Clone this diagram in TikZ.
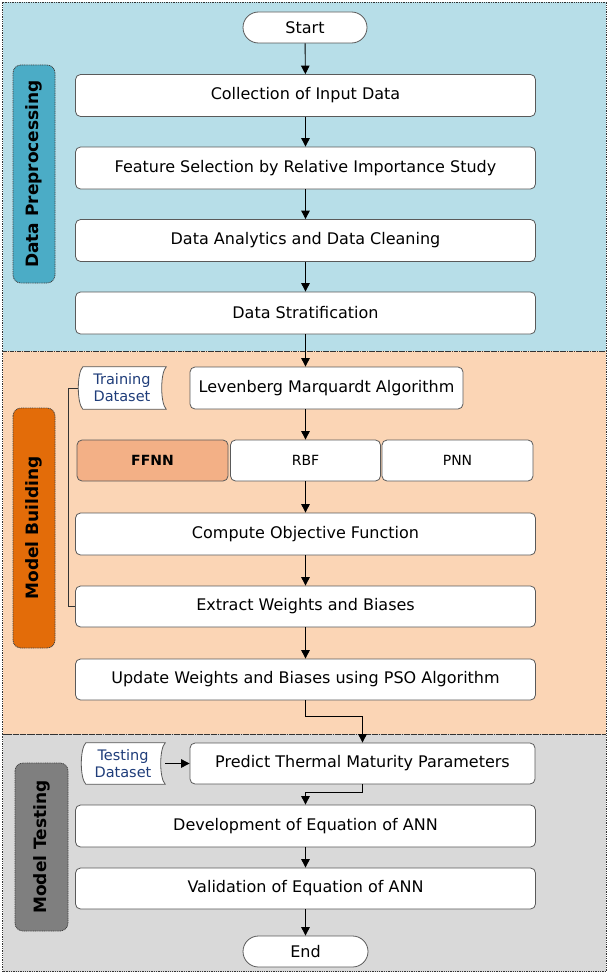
\documentclass[tikz,border=0pt]{standalone}
\usepackage{fontspec}
\setmainfont{DejaVu Sans}
\usetikzlibrary{arrows.meta,calc}
\pgfdeclarelayer{secbg}
\pgfdeclarelayer{shp}
\pgfsetlayers{secbg,shp,main}
\definecolor{bluebg}{HTML}{B7DEE8}
\definecolor{orangebg}{HTML}{FBD5B5}
\definecolor{graybg}{HTML}{D9D9D9}
\definecolor{bluelab}{HTML}{4BACC6}
\definecolor{orangelab}{HTML}{E36C09}
\definecolor{graylab}{HTML}{7F7F7F}
\definecolor{ffnnfill}{HTML}{F3B086}
\definecolor{dsblue}{HTML}{1F3D7A}
\definecolor{boxline}{HTML}{5A5A5A}
\tikzset{
  secframe/.style={draw=black!80, line width=0.9pt, dash pattern=on 1.3pt off 1pt},
  procbox/.style={draw=boxline, fill=white, line width=0.8pt, rounded corners=5pt,
    minimum width=460pt, minimum height=42pt, inner sep=0pt,
    font=\fontsize{16}{19}\selectfont},
  smallbox/.style={procbox, minimum width=151pt, minimum height=41pt, font=\fontsize{14}{17}\selectfont},
  termbox/.style={draw=boxline, fill=white, line width=0.8pt, rounded corners=15.5pt,
    minimum width=124pt, minimum height=31pt, inner sep=0pt, font=\fontsize{16}{19}\selectfont},
  seclabel/.style={draw=black!75, line width=0.8pt, dash pattern=on 1pt off 0.8pt,
    rounded corners=8pt, rotate=90, inner sep=0pt, minimum height=42pt,
    font=\fontsize{17}{20}\selectfont\bfseries},
  dsnode/.style={inner sep=0pt, minimum width=88pt, minimum height=42pt, align=center,
    text=dsblue, font=\fontsize{14.5}{17}\selectfont},
  dsshape/.style={draw=boxline, fill=white, line width=0.8pt},
  arr/.style={draw=black, line width=0.9pt, -{Triangle[length=8.5pt,width=8.5pt]}},
  conn/.style={draw=black!80, line width=0.8pt},
}
\newcommand{\storedshape}[1]{%
  \path[dsshape] ([xshift=5pt]#1.north west) -- (#1.north east)
    .. controls +(-6,6) and +(-6,-6) .. (#1.south east)
    -- ([xshift=5pt]#1.south west)
    .. controls +(-6,-6) and +(-6,6) .. ([xshift=5pt]#1.north west) -- cycle;}
\begin{document}
\begin{tikzpicture}[x=1pt,y=-1pt]
\useasboundingbox (0,0) rectangle (611,974);
% sections
\begin{pgfonlayer}{secbg}
\path[fill=bluebg] (2.5,2.5) rectangle (606,351);
\path[fill=orangebg] (2.5,351) rectangle (606,734);
\path[fill=graybg] (2.5,734) rectangle (606,971.5);
\draw[secframe] (2.5,2.5) rectangle (606,351);
\draw[secframe] (2.5,351) rectangle (606,734);
\draw[secframe] (2.5,734) rectangle (606,971.5);
\end{pgfonlayer}
% section labels
\node[seclabel, fill=bluelab, minimum width=218pt] (lab1) at (34,174) {Data Preprocessing};
\node[seclabel, fill=orangelab, minimum width=240pt] (lab2) at (34,528) {Model Building};
\node[seclabel, fill=graylab, minimum width=168pt, minimum height=53pt] (lab3) at (41.5,847) {Model Testing};
% main flow
\node[termbox] (start) at (305,27.5) {Start};
\node[procbox] (coll) at (305.5,95.5) {Collection of Input Data};
\node[procbox] (feat) at (305.5,168) {Feature Selection by Relative Importance Study};
\node[procbox] (anal) at (305.5,240.5) {Data Analytics and Data Cleaning};
\node[procbox] (strat) at (305.5,313) {Data Stratification};
\node[procbox, minimum width=273pt] (lev) at (326.5,388) {Levenberg Marquardt Algorithm};
\node[dsnode] (train) at (122,388) {Training\\Dataset};
\node[smallbox, fill=ffnnfill, font=\fontsize{14}{17}\selectfont\bfseries] (ffnn) at (152.5,460.5) {FFNN};
\node[smallbox, minimum width=150pt] (rbf) at (305.5,460.5) {RBF};
\node[smallbox] (pnn) at (457.5,460.5) {PNN};
\node[procbox] (comp) at (305.5,534) {Compute Objective Function};
\node[procbox, minimum height=41pt] (extr) at (305.5,606.5) {Extract Weights and Biases};
\node[procbox, minimum height=41pt] (upd) at (305.5,679.5) {Update Weights and Biases using PSO Algorithm};
\node[procbox, minimum width=345pt, minimum height=41pt] (pred) at (362.5,763.5) {Predict Thermal Maturity Parameters};
\node[dsnode, minimum width=84pt, minimum height=41pt] (test) at (123,763.5) {Testing\\Dataset};
\node[procbox] (dev) at (305.5,826) {Development of Equation of ANN};
\node[procbox, minimum height=41pt] (val) at (305.5,888.5) {Validation of Equation of ANN};
\node[termbox, minimum width=125pt] (end) at (305.5,951.5) {End};
% stored-data shapes
\begin{pgfonlayer}{shp}
\storedshape{train}
\storedshape{test}
\end{pgfonlayer}
% connectors
\draw[arr] (start) -- (coll);
\draw[arr] (coll) -- (feat);
\draw[arr] (feat) -- (anal);
\draw[arr] (anal) -- (strat);
\draw[arr] (strat.south) -- (strat.south |- lev.north);
\draw[arr] (rbf.north |- lev.south) -- (rbf.north);
\draw[arr] (rbf) -- (comp);
\draw[arr] (comp) -- (extr);
\draw[arr] (extr) -- (upd);
\draw[arr] (upd.south) -- ++(0,16) -| (pred.north);
\draw[arr] (test.east) -- (pred.west);
\draw[arr] (pred.south) -- ++(0,8) -| (dev.north);
\draw[arr] (dev) -- (val);
\draw[arr] (val) -- (end);
\draw[conn] (train.west) -- ++(-9,0) |- (extr.west);
\end{tikzpicture}
\end{document}
